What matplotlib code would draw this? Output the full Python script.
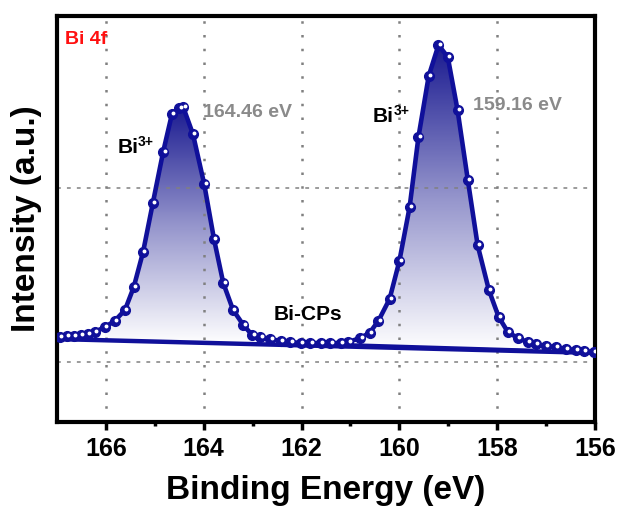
import numpy as np
import matplotlib
matplotlib.use('Agg')
import matplotlib.pyplot as plt
from matplotlib.colors import LinearSegmentedColormap
from matplotlib.patches import Polygon
import matplotlib.transforms as mtransforms

plt.rcParams['font.family'] = ['Liberation Sans', 'DejaVu Sans']
plt.rcParams['font.weight'] = 'bold'

# Bi 4f spectrum (binding energy in eV, intensity in counts)
energy = [166.94, 166.80, 166.66, 166.51, 166.37, 166.23, 166.02, 165.82, 165.61, 165.43,
          165.24, 165.04, 164.83, 164.65, 164.50, 164.42, 164.22, 163.99, 163.79, 163.60,
          163.40, 163.19, 163.01, 162.84, 162.64, 162.43, 162.23, 162.02, 161.82, 161.61,
          161.41, 161.20, 161.04, 160.80, 160.61, 160.43, 160.20, 160.00, 159.79, 159.61,
          159.40, 159.20, 159.01, 158.81, 158.60, 158.40, 158.17, 157.97, 157.78, 157.58,
          157.38, 157.21, 157.00, 156.80, 156.60, 156.39, 156.23, 156.02]
counts = [11440, 11490, 11490, 11550, 11610, 11720, 12010, 12360, 12990, 14310,
          16320, 19140, 22070, 24250, 24600, 24660, 23100, 20230, 17070, 14540,
          12990, 12130, 11550, 11440, 11320, 11210, 11150, 11090, 11090, 11090,
          11090, 11090, 11150, 11380, 11670, 12360, 13620, 15800, 18910, 22930,
          26440, 28220, 27530, 24480, 20460, 16720, 14140, 12590, 11720, 11380,
          11150, 11030, 10920, 10860, 10750, 10690, 10630, 10570]

# backgrounds
bg_energy = [167.0, 156.0]
bg_counts = [11320, 10520]
bg2_energy = [161.3, 157.3]
bg2_counts = [11030, 10690]

# fitted peak windows
peak_ranges = [(163.0, 166.05), (157.5, 160.9)]

xticks = [166, 164, 162, 160, 158, 156]
ygrid = [10000, 20000]

navy = '#10109a'

fig = plt.figure(figsize=(6.22, 5.18), dpi=100)
ax = fig.add_axes([0.0916, 0.1853, 0.865, 0.7838])

e = np.array(energy)
c = np.array(counts)

cmap = LinearSegmentedColormap.from_list('blues', ['#ffffff', '#9595cc', '#1a1a90'])
grad = np.linspace(0, 1, 256).reshape(-1, 1)

for lo, hi in peak_ranges:
    m = (e >= lo) & (e <= hi)
    xs = e[m]
    ys = c[m]
    base = np.interp(xs[::-1], bg_energy[::-1], bg_counts[::-1])[::-1]
    verts = list(zip(xs, ys)) + list(zip(xs[::-1], base[::-1]))
    poly = Polygon(verts, closed=True, facecolor='none', edgecolor='none')
    ax.add_patch(poly)
    im = ax.imshow(grad, extent=[hi, lo, base.min(), ys.max()], origin='lower',
                   cmap=cmap, aspect='auto', zorder=1)
    im.set_clip_path(poly)

ax.plot(bg_energy, bg_counts, color=navy, lw=3.2, zorder=3)
ax.plot(bg2_energy, bg2_counts, color=navy, lw=2, zorder=3)
ax.plot(e, c, color=navy, lw=3.3, marker='o', ms=7, mfc=navy, mec=navy, zorder=4)
hl = mtransforms.offset_copy(ax.transData, fig=fig, x=1.0, y=1.0, units='points')
ax.plot(e, c, ls='none', marker='o', ms=1.8, mfc='white', mec='white', transform=hl, zorder=5)

ax.set_xlim(167, 156)
ax.set_ylim(6550, 29890)
ax.set_xticks(xticks)
ax.set_xticks([165, 163, 161, 159, 157], minor=True)
ax.set_yticks(ygrid)
ax.set_yticklabels([])
ax.tick_params(axis='y', length=0)
ax.tick_params(axis='x', which='major', direction='out', length=6, width=2.5,
               labelsize=18, pad=5)
ax.tick_params(axis='x', which='minor', direction='out', length=3, width=2.5)
for lab in ax.get_xticklabels():
    lab.set_fontweight('bold')

ax.grid(axis='x', color='#808080', ls=(0, (1, 4.5)), lw=1.8, zorder=0)
ax.grid(axis='y', color='#808080', ls=(0, (2.5, 4)), lw=1.1, zorder=0)

for s in ax.spines.values():
    s.set_linewidth(3)

ax.set_xlabel('Binding Energy (eV)', fontsize=24, fontweight='bold', labelpad=10)
ax.set_ylabel('Intensity (a.u.)', fontsize=24, fontweight='bold', labelpad=7)

ax.text(0.015, 0.941, 'Bi 4f', transform=ax.transAxes, color='#ff1010',
        fontsize=14, fontweight='bold', va='center', ha='left')
for bx, by in [(165.77, 22011), (160.55, 23793)]:
    bi = ax.text(bx, by, 'Bi', fontsize=15, fontweight='bold', ha='left', va='baseline')
    ax.annotate('3+', xy=(1.0, 1.15), xycoords=bi, fontsize=10, fontweight='bold',
                ha='left', va='top')
ax.text(164.01, 24368, '164.46 eV', color='#8a8a8a', fontsize=14,
        fontweight='bold', ha='left', va='center')
ax.text(158.50, 24770, '159.16 eV', color='#8a8a8a', fontsize=14,
        fontweight='bold', ha='left', va='center')
ax.text(161.86, 12414, 'Bi-CPs', fontsize=15, fontweight='bold', ha='center', va='baseline')

fig.savefig('out.png', dpi=100)
